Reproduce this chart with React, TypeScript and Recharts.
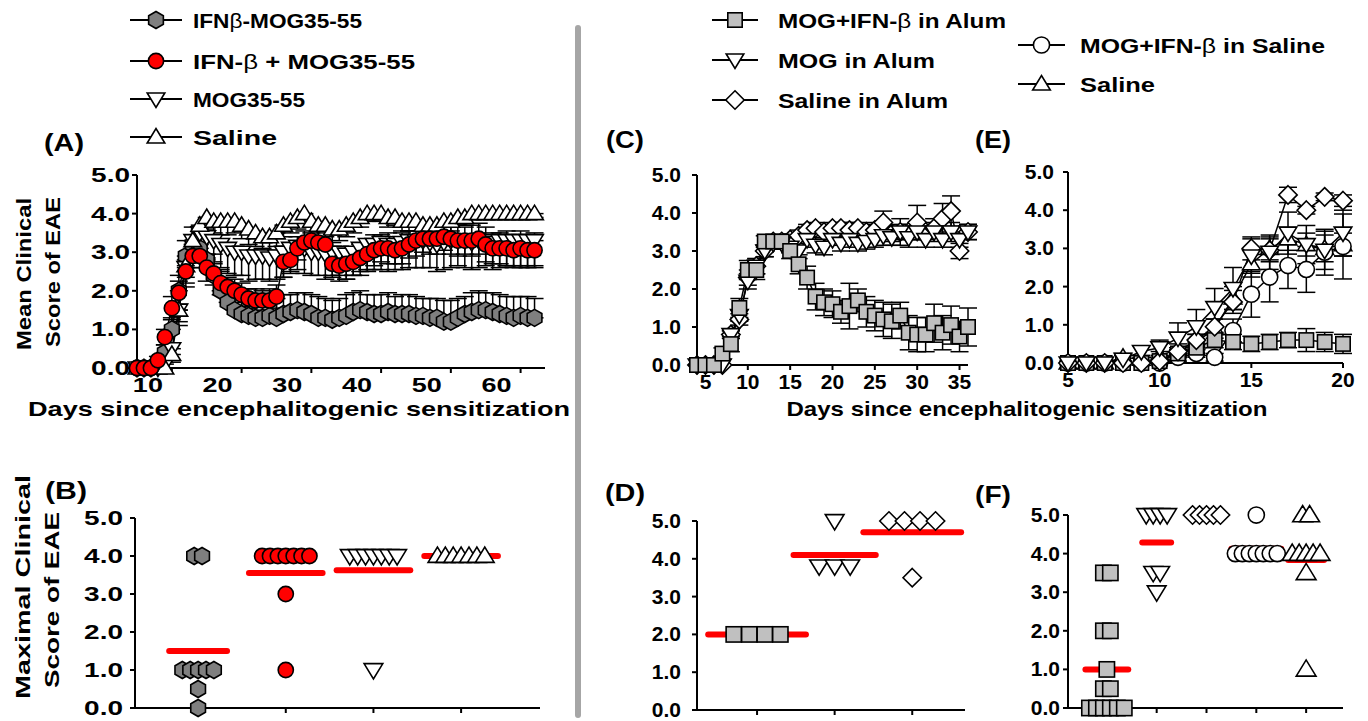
import React from "react";
import { ComposedChart, Line, Scatter, XAxis, YAxis, ErrorBar } from "recharts";

const FONT = "'Liberation Sans', Arial, Helvetica, sans-serif";

// ---------- (A) mean clinical score, days 5-62 ----------
const daysA = [
  5, 6, 7, 8, 9, 10, 11, 12, 13, 14, 15, 16, 17, 18, 19, 20, 21, 22, 23, 24, 25, 26, 27, 28, 29, 30, 31, 32, 33,
  34, 35, 36, 37, 38, 39, 40, 41, 42, 43, 44, 45, 46, 47, 48, 49, 50, 51, 52, 53, 54, 55, 56, 57, 58, 59, 60, 61, 62,
];
const hexA = [
  0, 0, 0, 0.1, 0.4, 1.0, 2.0, 2.9, 3.2, 3.1,
  2.8, 2.4, 2.0, 1.7, 1.5, 1.4, 1.35, 1.3, 1.3, 1.35,
  1.3, 1.4, 1.45, 1.5, 1.45, 1.4, 1.3, 1.3, 1.25, 1.3,
  1.35, 1.45, 1.5, 1.45, 1.4, 1.4, 1.45, 1.4, 1.4, 1.4,
  1.35, 1.35, 1.3, 1.3, 1.2, 1.2, 1.3, 1.4, 1.45, 1.5,
  1.5, 1.45, 1.4, 1.35, 1.3, 1.35, 1.3, 1.3,
];
const hexErrA = [
  0, 0, 0, 0.1, 0.2, 0.3, 0.4, 0.4, 0.45, 0.5,
  0.55, 0.55, 0.55, 0.5, 0.5, 0.5, 0.45, 0.5, 0.5, 0.45,
  0.5, 0.5, 0.45, 0.45, 0.5, 0.5, 0.55, 0.5, 0.5, 0.5,
  0.55, 0.5, 0.5, 0.45, 0.5, 0.5, 0.5, 0.45, 0.5, 0.5,
  0.5, 0.45, 0.5, 0.5, 0.55, 0.55, 0.5, 0.45, 0.5, 0.5,
  0.45, 0.5, 0.5, 0.5, 0.55, 0.5, 0.55, 0.5,
];
const redA = [
  0, 0, 0, 0.2, 0.8, 1.55, 1.95, 2.5, 2.9, 2.9,
  2.6, 2.45, 2.2, 2.1, 2.0, 1.9, 1.8, 1.75, 1.75, 1.75,
  1.85, 2.75, 2.8, 3.1, 3.25, 3.3, 3.25, 3.2, 2.7, 2.65,
  2.7, 2.75, 2.85, 2.95, 3.05, 3.1, 3.1, 3.05, 3.1, 3.2,
  3.3, 3.35, 3.35, 3.35, 3.4, 3.35, 3.3, 3.3, 3.3, 3.35,
  3.2, 3.1, 3.1, 3.1, 3.05, 3.1, 3.05, 3.05,
];
const redErrA = [
  0, 0, 0, 0.1, 0.2, 0.3, 0.3, 0.3, 0.3, 0.3,
  0.35, 0.3, 0.3, 0.25, 0.3, 0.3, 0.25, 0.3, 0.25, 0.3,
  0.3, 0.4, 0.35, 0.3, 0.3, 0.35, 0.3, 0.3, 0.35, 0.4,
  0.4, 0.35, 0.35, 0.4, 0.4, 0.35, 0.4, 0.35, 0.4, 0.35,
  0.4, 0.35, 0.4, 0.4, 0.35, 0.4, 0.4, 0.35, 0.4, 0.4,
  0.45, 0.4, 0.4, 0.45, 0.4, 0.45, 0.4, 0.45,
];
const mogA = [
  0, 0, 0, 0, 0.1, 0.5, 1.5, 2.6, 3.3, 3.5,
  3.4, 3.3, 3.2, 3.1, 3.0, 3.0, 2.9, 2.9, 2.9, 2.85,
  2.9, 3.0, 3.1, 3.15, 3.1, 3.0, 3.0, 2.95, 3.0, 3.0,
  2.95, 3.0, 3.1, 3.2, 3.2, 3.25, 3.2, 3.2, 3.25, 3.3,
  3.3, 3.3, 3.25, 3.2, 3.25, 3.3, 3.3, 3.3, 3.25, 3.3,
  3.3, 3.25, 3.3, 3.3, 3.3, 3.3, 3.3, 3.3,
];
const mogErrA = [
  0, 0, 0, 0, 0.1, 0.3, 0.4, 0.5, 0.4, 0.5,
  0.55, 0.6, 0.6, 0.65, 0.6, 0.6, 0.65, 0.6, 0.6, 0.6,
  0.6, 0.65, 0.6, 0.6, 0.65, 0.6, 0.6, 0.65, 0.6, 0.6,
  0.65, 0.6, 0.7, 0.7, 0.65, 0.7, 0.7, 0.65, 0.7, 0.7,
  0.7, 0.7, 0.65, 0.7, 0.7, 0.7, 0.65, 0.7, 0.7, 0.7,
  0.65, 0.7, 0.7, 0.65, 0.7, 0.7, 0.7, 0.65,
];
const salA = [
  0, 0, 0, 0, 0, 0.35, 1.5, 2.65, 3.3, 3.7,
  3.9, 3.8, 3.8, 3.8, 3.8, 3.7, 3.6, 3.5, 3.4, 3.4,
  3.5, 3.7, 3.8, 3.9, 4.0, 3.8, 3.7, 3.7, 3.6, 3.6,
  3.7, 3.8, 3.9, 4.0, 4.0, 4.0, 3.9, 3.9, 3.8, 3.8,
  3.8, 3.7, 3.7, 3.7, 3.8, 3.8, 3.9, 3.9, 4.0, 4.0,
  4.0, 4.0, 4.0, 4.0, 4.0, 4.0, 4.0, 4.0,
];
const salErrA = [
  0, 0, 0, 0, 0, 0.2, 0.3, 0.3, 0.3, 0.3,
  0.3, 0.3, 0.35, 0.35, 0.3, 0.35, 0.4, 0.35, 0.3, 0.35,
  0.35, 0.3, 0.3, 0.3, 0.25, 0.3, 0.35, 0.3, 0.35, 0.3,
  0.3, 0.3, 0.25, 0.2, 0.2, 0.2, 0.25, 0.2, 0.25, 0.25,
  0.25, 0.3, 0.3, 0.3, 0.25, 0.25, 0.2, 0.2, 0.15, 0.15,
  0.1, 0.1, 0.1, 0.1, 0.1, 0.1, 0.1, 0.1,
];

// ---------- (C) alum groups, days 4-36 ----------
const daysC = [4, 5, 6, 7, 8, 9, 10, 11, 12, 13, 14, 15, 16, 17, 18, 19, 20, 21, 22, 23, 24, 25, 26, 27, 28, 29, 30, 31, 32, 33, 34, 35, 36];
const sqC = [
  0, 0, 0, 0.3, 0.55, 1.5, 2.5, 2.5, 3.25, 3.25,
  3.25, 3.0, 2.65, 2.3, 1.8, 1.65, 1.6, 1.4, 1.55, 1.7,
  1.4, 1.3, 1.2, 1.15, 1.3, 0.85, 0.8, 0.8, 1.1, 0.85,
  1.05, 0.75, 1.0,
];
const sqErrC = [
  0, 0, 0, 0.15, 0.2, 0.25, 0.25, 0.25, 0.15, 0.15,
  0.15, 0.2, 0.25, 0.3, 0.35, 0.35, 0.35, 0.3, 0.6, 0.3,
  0.4, 0.4, 0.45, 0.45, 0.35, 0.45, 0.45, 0.45, 0.5, 0.45,
  0.5, 0.4, 0.5,
];
const mogC = [
  0, 0, 0, 0, 0.8, 1.3, 2.2, 2.6, 3.0, 3.2,
  3.2, 3.1, 3.0, 3.3, 3.15, 3.1, 3.3, 3.2, 3.3, 3.2,
  3.25, 3.3, 3.4, 3.35, 3.5, 3.35, 3.5, 3.3, 3.5, 3.3,
  3.5, 3.3, 3.5,
];
const mogErrC = [
  0, 0, 0, 0, 0.1, 0.15, 0.2, 0.2, 0.15, 0.15,
  0.15, 0.15, 0.2, 0.2, 0.2, 0.2, 0.15, 0.2, 0.2, 0.2,
  0.2, 0.2, 0.25, 0.2, 0.35, 0.25, 0.2, 0.2, 0.25, 0.2,
  0.25, 0.2, 0.2,
];
const diaC = [
  0, 0, 0, 0, 0.8, 1.2, 2.3, 2.6, 3.0, 3.25,
  3.25, 3.3, 3.4, 3.55, 3.6, 3.5, 3.6, 3.6, 3.55, 3.6,
  3.5, 3.55, 3.75, 3.45, 3.5, 3.5, 3.75, 3.5, 3.6, 3.85,
  4.05, 3.0, 3.5,
];
const diaErrC = [
  0, 0, 0, 0, 0.1, 0.15, 0.2, 0.2, 0.15, 0.15,
  0.15, 0.15, 0.15, 0.15, 0.15, 0.2, 0.15, 0.15, 0.2, 0.15,
  0.2, 0.2, 0.3, 0.2, 0.2, 0.2, 0.45, 0.2, 0.25, 0.4,
  0.4, 0.2, 0.2,
];

// ---------- (E) saline groups, days 5-20 ----------
const daysE = [5, 6, 7, 8, 9, 10, 11, 12, 13, 14, 15, 16, 17, 18, 19, 20];
const sqE = [0, 0, 0, 0, 0, 0.05, 0.25, 0.4, 0.6, 0.55, 0.5, 0.55, 0.6, 0.6, 0.55, 0.5];
const sqErrE = [0, 0, 0, 0, 0, 0.05, 0.1, 0.15, 0.2, 0.2, 0.2, 0.2, 0.2, 0.3, 0.25, 0.25];
const mogE = [0, 0, 0, 0.1, 0.3, 0.4, 0.65, 0.95, 1.45, 1.95, 2.8, 2.9, 3.4, 3.1, 2.95, 3.4];
const mogErrE = [0, 0, 0, 0.1, 0.15, 0.2, 0.4, 0.45, 0.5, 0.55, 0.45, 0.45, 0.55, 0.5, 0.5, 0.6];
const diaE = [0, 0, 0, 0, 0, 0.05, 0.3, 0.6, 0.95, 1.6, 3.0, 2.95, 4.4, 4.0, 4.35, 4.25];
const diaErrE = [0, 0, 0, 0, 0, 0.05, 0.1, 0.15, 0.2, 0.3, 0.3, 0.3, 0.2, 0.1, 0.1, 0.15];
const cirE = [0, 0, 0, 0, 0, 0, 0.15, 0.25, 0.15, 0.85, 1.8, 2.25, 2.55, 2.45, 2.9, 3.05];
const cirErrE = [0, 0, 0, 0, 0, 0, 0.1, 0.1, 0.1, 0.3, 0.6, 0.65, 0.6, 0.6, 0.6, 0.85];
const salE = [0, 0, 0, 0.15, 0.1, 0.2, 0.35, 0.55, 0.9, 1.7, 2.6, 3.0, 3.25, 3.1, 3.0, 3.1];
const salErrE = [0, 0, 0, 0.1, 0.1, 0.1, 0.15, 0.2, 0.25, 0.3, 0.35, 0.3, 0.3, 0.3, 0.35, 0.3];

// ---------- maximal scores per animal ----------
const bHex = [4, 4, 1, 1, 1, 1, 1, 0.5, 0];
const bRed = [4, 4, 4, 4, 4, 4, 4, 3, 1];
const bMog = [4, 4, 4, 4, 4, 4, 4, 1];
const bSal = [4, 4, 4, 4, 4, 4, 4];
const dSq = [2, 2, 2, 2];
const dMog = [5, 3.8, 3.8, 3.8];
const dDia = [5, 5, 5, 5, 3.5];
const fSq = [3.5, 3.5, 2, 2, 1, 0.5, 0.5, 0, 0, 0, 0, 0, 0];
const fMog = [5, 5, 5, 5, 3.5, 3.5, 3];
const fDia = [5, 5, 5, 5, 5];
const fCir = [5, 4, 4, 4, 4, 4, 4, 4];
const fSal = [5, 5, 4, 4, 4, 4, 4, 3.5, 1];

const scoreTicks = [0, 1, 2, 3, 4, 5];

type Kind = "hex" | "circle" | "down" | "up" | "square" | "diamond";
const GREY = "#7f7f7f";
const LIGHT = "#c0c0c0";
const RED = "#ff0000";

function Marker({ kind, cx, cy, fill, s = 8 }: { kind: Kind; cx: number; cy: number; fill: string; s?: number }) {
  const st = { fill, stroke: "#000", strokeWidth: 1.6 };
  if (cx == null || cy == null) return <g />;
  if (kind === "circle") return <circle cx={cx} cy={cy} r={s * 0.95} {...st} />;
  if (kind === "square") return <rect x={cx - s * 0.9} y={cy - s * 0.9} width={s * 1.8} height={s * 1.8} {...st} />;
  let pts: number[][] = [];
  if (kind === "hex")
    pts = [0, 1, 2, 3, 4, 5].map((k) => {
      const a = (Math.PI / 3) * k - Math.PI / 2;
      return [cx + s * Math.cos(a), cy + s * Math.sin(a)];
    });
  if (kind === "down") pts = [[cx - s * 1.1, cy - s * 0.75], [cx + s * 1.1, cy - s * 0.75], [cx, cy + s * 1.05]];
  if (kind === "up") pts = [[cx - s * 1.1, cy + s * 0.75], [cx + s * 1.1, cy + s * 0.75], [cx, cy - s * 1.05]];
  if (kind === "diamond") pts = [[cx, cy - s * 1.15], [cx + s * 1.15, cy], [cx, cy + s * 1.15], [cx - s * 1.15, cy]];
  return <polygon points={pts.map((p) => p.join(",")).join(" ")} {...st} />;
}

function AxisTick(props: any) {
  const { x, y, payload, anchor, sx = 1, dx = 0, dy = 0, size = 20, fmt } = props;
  return (
    <text
      transform={`translate(${x + dx},${y + dy}) scale(${sx},1)`}
      textAnchor={anchor}
      fontFamily={FONT}
      fontWeight="bold"
      fontSize={size}
      fill="#000"
    >
      {fmt ? fmt(payload.value) : payload.value}
    </text>
  );
}

type Box = { left: number; top: number; right: number; bottom: number };
const YW = 80;
const PADT = 15;
const PADR = 15;
const axisStyle = { stroke: "#000", strokeWidth: 2 };

function frame(box: Box, xh: number) {
  return {
    style: { position: "absolute" as const, left: box.left - YW, top: box.top - PADT },
    width: box.right - box.left + YW + PADR,
    height: box.bottom - box.top + PADT + xh,
  };
}

function scoreAxis(gap: number, sx: number, dataKey?: string) {
  return (
    <YAxis
      type="number"
      dataKey={dataKey}
      domain={[0, 5]}
      ticks={scoreTicks}
      interval={0}
      width={YW}
      axisLine={axisStyle}
      tickLine={axisStyle}
      tickSize={5}
      tickMargin={gap}
      tick={(p: any) => <AxisTick {...p} anchor="end" sx={sx} dy={7} fmt={(v: number) => v.toFixed(1)} />}
    />
  );
}

type Series = { key: string; values: number[]; err: number[]; dir: "up" | "down" | "both"; kind: Kind; fill: string; s: number };

function TimePanel({ box, days, series, domain, ticks, tickDx, sx, yGap, ySx }: {
  box: Box; days: number[]; series: Series[]; domain: number[]; ticks: number[]; tickDx: number; sx: number; yGap: number; ySx: number;
}) {
  const rows = days.map((d, i) => {
    const r: any = { day: d };
    series.forEach((s) => {
      const e = s.err[i];
      r[s.key] = s.values[i];
      r[s.key + "Err"] = s.dir === "up" ? [0, e] : s.dir === "down" ? [e, 0] : e;
    });
    return r;
  });
  const f = frame(box, 40);
  return (
    <div style={f.style}>
      <ComposedChart width={f.width} height={f.height} data={rows} margin={{ top: PADT, right: PADR, bottom: 0, left: 0 }}>
        <XAxis
          type="number"
          dataKey="day"
          domain={domain}
          ticks={ticks}
          interval={0}
          height={40}
          axisLine={axisStyle}
          tickLine={axisStyle}
          tickSize={5}
          tickMargin={4}
          tick={(p: any) => <AxisTick {...p} anchor="middle" sx={sx} dx={tickDx} dy={15} />}
        />
        {scoreAxis(yGap, ySx)}
        {series.map((s) => (
          <Line
            key={s.key}
            dataKey={s.key}
            stroke="#000"
            strokeWidth={1.5}
            activeDot={false}
            isAnimationActive={false}
            dot={(p: any) => <Marker key={s.key + p.index} kind={s.kind} cx={p.cx} cy={p.cy} fill={s.fill} s={s.s} />}
          >
            <ErrorBar dataKey={s.key + "Err"} direction="y" width={9} stroke="#000" strokeWidth={1.5} />
          </Line>
        ))}
      </ComposedChart>
    </div>
  );
}

function spread(values: number[], group: number, step: number) {
  const counts: Record<string, number> = {};
  values.forEach((v) => (counts[v] = (counts[v] || 0) + 1));
  const seen: Record<string, number> = {};
  return values.map((v) => {
    const k = (seen[v] = (seen[v] ?? -1) + 1);
    return { x: group + (k - (counts[v] - 1) / 2) * step, y: v };
  });
}

function meanSeg(values: number[], group: number, step: number, pad: number) {
  const counts: Record<string, number> = {};
  values.forEach((v) => (counts[v] = (counts[v] || 0) + 1));
  const maxCount = Math.max(...Object.values(counts));
  const half = ((maxCount - 1) / 2) * step + pad;
  const m = values.reduce((a, b) => a + b, 0) / values.length;
  return [{ x: group - half, y: m }, { x: group + half, y: m }];
}

type Group = { values: number[]; kind: Kind; fill: string; s: number };

function DotPanel({ box, domain, groups, step, pad, yGap, ySx }: {
  box: Box; domain: number[]; groups: Group[]; step: number; pad: number; yGap: number; ySx: number;
}) {
  const f = frame(box, 12);
  return (
    <div style={f.style}>
      <ComposedChart width={f.width} height={f.height} margin={{ top: PADT, right: PADR, bottom: 0, left: 0 }}>
        <XAxis
          type="number"
          dataKey="x"
          domain={domain}
          ticks={groups.map((_, i) => i + 1)}
          interval={0}
          height={12}
          axisLine={axisStyle}
          tickLine={axisStyle}
          tickSize={5}
          tick={() => <g />}
        />
        {scoreAxis(yGap, ySx, "y")}
        {groups.map((g, i) => (
          <Line
            key={"m" + i}
            data={meanSeg(g.values, i + 1, step, pad)}
            dataKey="y"
            stroke={RED}
            strokeWidth={6}
            strokeLinecap="round"
            dot={false}
            activeDot={false}
            isAnimationActive={false}
          />
        ))}
        {groups.map((g, i) => (
          <Scatter
            key={"s" + i}
            data={spread(g.values, i + 1, step)}
            dataKey="y"
            isAnimationActive={false}
            shape={(p: any) => <Marker kind={g.kind} cx={p.cx} cy={p.cy} fill={g.fill} s={g.s} />}
          />
        ))}
      </ComposedChart>
    </div>
  );
}

function LegendRow({ x1, x2, y, kind, fill, s, tx, label, len }: {
  x1: number; x2: number; y: number; kind: Kind; fill: string; s: number; tx: number; label: React.ReactNode; len: number;
}) {
  return (
    <g>
      <line x1={x1} x2={x2} y1={y} y2={y} stroke="#000" strokeWidth={2} />
      <Marker kind={kind} cx={(x1 + x2) / 2} cy={y} fill={fill} s={s} />
      <text x={tx} y={y + 8} fontFamily={FONT} fontWeight="bold" fontSize={21} textLength={len} lengthAdjust="spacingAndGlyphs">
        {label}
      </text>
    </g>
  );
}

const beta = <tspan fontWeight="normal">β</tspan>;

function Label({ x, y, len, size = 21, children, rotate = false }: { x: number; y: number; len: number; size?: number; children: React.ReactNode; rotate?: boolean }) {
  return (
    <text
      transform={`translate(${x},${y})${rotate ? " rotate(-90)" : ""}`}
      textAnchor="middle"
      dy="0.35em"
      fontFamily={FONT}
      fontWeight="bold"
      fontSize={size}
      textLength={len}
      lengthAdjust="spacingAndGlyphs"
    >
      {children}
    </text>
  );
}

export default function App() {
  const seriesA: Series[] = [
    { key: "hex", values: hexA, err: hexErrA, dir: "up", kind: "hex", fill: GREY, s: 8.5 },
    { key: "mog", values: mogA, err: mogErrA, dir: "down", kind: "down", fill: "#fff", s: 8 },
    { key: "sal", values: salA, err: salErrA, dir: "down", kind: "up", fill: "#fff", s: 8 },
    { key: "red", values: redA, err: redErrA, dir: "both", kind: "circle", fill: RED, s: 8 },
  ];
  const seriesC: Series[] = [
    { key: "dia", values: diaC, err: diaErrC, dir: "both", kind: "diamond", fill: "#fff", s: 8 },
    { key: "mog", values: mogC, err: mogErrC, dir: "both", kind: "down", fill: "#fff", s: 8 },
    { key: "sq", values: sqC, err: sqErrC, dir: "both", kind: "square", fill: LIGHT, s: 8 },
  ];
  const seriesE: Series[] = [
    { key: "sal", values: salE, err: salErrE, dir: "both", kind: "up", fill: "#fff", s: 8 },
    { key: "cir", values: cirE, err: cirErrE, dir: "both", kind: "circle", fill: "#fff", s: 8.5 },
    { key: "sq", values: sqE, err: sqErrE, dir: "both", kind: "square", fill: LIGHT, s: 8 },
    { key: "dia", values: diaE, err: diaErrE, dir: "both", kind: "diamond", fill: "#fff", s: 8 },
    { key: "mog", values: mogE, err: mogErrE, dir: "both", kind: "down", fill: "#fff", s: 8 },
  ];

  return (
    <div style={{ position: "absolute", left: 0, top: 0, width: 1368, height: 721, overflow: "hidden", background: "#fff" }}>
      <svg width={1368} height={721} style={{ position: "absolute", left: 0, top: 0 }}>
        <line x1={578} x2={578} y1={28} y2={715} stroke="#a6a6a6" strokeWidth={6} strokeLinecap="round" />

        <LegendRow x1={130} x2={182} y={20} kind="hex" fill={GREY} s={8.5} tx={193} len={169} label={<>IFN{beta}-MOG35-55</>} />
        <LegendRow x1={130} x2={182} y={61} kind="circle" fill={RED} s={8} tx={193} len={222} label={<>IFN-{beta} + MOG35-55</>} />
        <LegendRow x1={130} x2={182} y={99} kind="down" fill="#fff" s={8} tx={193} len={112} label="MOG35-55" />
        <LegendRow x1={130} x2={182} y={137} kind="up" fill="#fff" s={8} tx={193} len={84} label="Saline" />

        <LegendRow x1={712} x2={758} y={20} kind="square" fill={LIGHT} s={8} tx={778} len={228} label={<>MOG+IFN-{beta} in Alum</>} />
        <LegendRow x1={712} x2={758} y={60} kind="down" fill="#fff" s={8} tx={778} len={157} label="MOG in Alum" />
        <LegendRow x1={712} x2={758} y={100} kind="diamond" fill="#fff" s={8} tx={778} len={170} label="Saline in Alum" />
        <LegendRow x1={1018} x2={1065} y={45} kind="circle" fill="#fff" s={8.5} tx={1080} len={245} label={<>MOG+IFN-{beta} in Saline</>} />
        <LegendRow x1={1018} x2={1065} y={84} kind="up" fill="#fff" s={8} tx={1080} len={75} label="Saline" />

        <Label x={64} y={143} len={40} size={24}>(A)</Label>
        <Label x={66} y={491} len={42} size={24}>(B)</Label>
        <Label x={625} y={140} len={38} size={24}>(C)</Label>
        <Label x={625} y={493} len={40} size={24}>(D)</Label>
        <Label x={993} y={140} len={36} size={24}>(E)</Label>
        <Label x={993} y={495} len={36} size={24}>(F)</Label>

        <Label x={24} y={274} len={152} rotate>Mean Clinical</Label>
        <Label x={53} y={272} len={150} rotate>Score of EAE</Label>
        <Label x={23} y={587} len={224} rotate>Maximal Clinical</Label>
        <Label x={52} y={600} len={176} rotate>Score of EAE</Label>

        <Label x={299} y={409} len={542}>Days since encephalitogenic sensitization</Label>
        <Label x={1027} y={409} len={481}>Days since encephalitogenic sensitization</Label>
      </svg>

      <TimePanel
        box={{ left: 137, top: 175, right: 545, bottom: 368 }}
        days={daysA}
        series={seriesA}
        domain={[5, 63.5]}
        ticks={[10, 20, 30, 40, 50, 60]}
        tickDx={-24}
        sx={1.35}
        yGap={2}
        ySx={1.4}
      />
      <TimePanel
        box={{ left: 697, top: 175, right: 968, bottom: 365 }}
        days={daysC}
        series={seriesC}
        domain={[4, 36]}
        ticks={[5, 10, 15, 20, 25, 30, 35]}
        tickDx={0}
        sx={1.05}
        yGap={11}
        ySx={1.05}
      />
      <TimePanel
        box={{ left: 1068, top: 172, right: 1343, bottom: 363 }}
        days={daysE}
        series={seriesE}
        domain={[5, 20]}
        ticks={[5, 10, 15, 20]}
        tickDx={0}
        sx={1.05}
        yGap={9}
        ySx={1.05}
      />

      <DotPanel
        box={{ left: 135, top: 518, right: 540, bottom: 708 }}
        domain={[0.28, 4.9]}
        step={0.09}
        pad={0.15}
        yGap={7}
        ySx={1.4}
        groups={[
          { values: bHex, kind: "hex", fill: GREY, s: 8.5 },
          { values: bRed, kind: "circle", fill: RED, s: 8 },
          { values: bMog, kind: "down", fill: "#fff", s: 8.5 },
          { values: bSal, kind: "up", fill: "#fff", s: 8.5 },
        ]}
      />
      <DotPanel
        box={{ left: 697, top: 521, right: 965, bottom: 710 }}
        domain={[0.226, 3.68]}
        step={0.2}
        pad={0.33}
        yGap={11}
        ySx={1.05}
        groups={[
          { values: dSq, kind: "square", fill: LIGHT, s: 8.5 },
          { values: dMog, kind: "down", fill: "#fff", s: 8.5 },
          { values: dDia, kind: "diamond", fill: "#fff", s: 8 },
        ]}
      />
      <DotPanel
        box={{ left: 1068, top: 515, right: 1343, bottom: 708 }}
        domain={[0.22, 5.74]}
        step={0.14}
        pad={0.08}
        yGap={3}
        ySx={1.05}
        groups={[
          { values: fSq, kind: "square", fill: LIGHT, s: 8.5 },
          { values: fMog, kind: "down", fill: "#fff", s: 8.5 },
          { values: fDia, kind: "diamond", fill: "#fff", s: 8 },
          { values: fCir, kind: "circle", fill: "#fff", s: 8.5 },
          { values: fSal, kind: "up", fill: "#fff", s: 9 },
        ]}
      />
    </div>
  );
}
